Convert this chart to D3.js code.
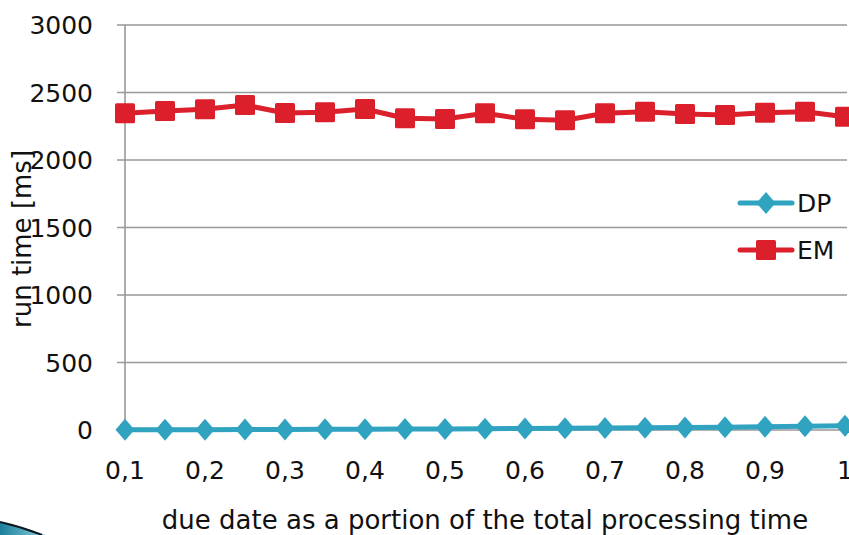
<!DOCTYPE html>
<html>
<head>
<meta charset="utf-8">
<script src="https://cdn.jsdelivr.net/npm/d3@7"></script>
<style>
  html, body { margin: 0; padding: 0; background: #fff; }
  svg { display: block; font-family: "DejaVu Sans", Verdana, sans-serif; }
</style>
</head>
<body>
<svg id="chart" width="849" height="535"></svg>
<script>
// due date as a portion of total processing time
const dueDates = [0.1, 0.15, 0.2, 0.25, 0.3, 0.35, 0.4, 0.45, 0.5, 0.55, 0.6, 0.65, 0.7, 0.75, 0.8, 0.85, 0.9, 0.95, 1.0];
// run times in ms
const dpValues = [1, 2, 2, 3, 4, 5, 6, 7, 8, 10, 11, 13, 15, 17, 19, 21, 24, 27, 31];
const emValues = [2346, 2363, 2376, 2407, 2348, 2353, 2378, 2309, 2304, 2346, 2301, 2294, 2346, 2358, 2341, 2333, 2350, 2358, 2321];
const yTicks = [0, 500, 1000, 1500, 2000, 2500, 3000];
const xTicks = [0.1, 0.2, 0.3, 0.4, 0.5, 0.6, 0.7, 0.8, 0.9, 1.0];
const seriesNames = ["DP", "EM"];
const seriesColors = ["#2fa3c0", "#db202b"];

const svg = d3.select("#chart");

const x = d3.scaleLinear().domain([0.1, 1.0]).range([125, 845]);
const y = d3.scaleLinear().domain([0, 3000]).range([430, 25]);

// horizontal gridlines
svg.append("g")
  .selectAll("line")
  .data(yTicks.filter(d => d > 0))
  .join("line")
  .attr("x1", x(0.1) - 8).attr("x2", 847)
  .attr("y1", d => y(d)).attr("y2", d => y(d))
  .attr("stroke", "#999").attr("stroke-width", 1.6);

// y axis line
svg.append("line")
  .attr("x1", x(0.1)).attr("x2", x(0.1))
  .attr("y1", y(3000)).attr("y2", y(0))
  .attr("stroke", "#999").attr("stroke-width", 1.6);

// x axis line with minor ticks at every data point
svg.append("line")
  .attr("x1", x(0.1)).attr("x2", 849)
  .attr("y1", y(0)).attr("y2", y(0))
  .attr("stroke", "#999").attr("stroke-width", 1.6);
svg.append("g")
  .selectAll("line")
  .data(dueDates)
  .join("line")
  .attr("x1", d => x(d)).attr("x2", d => x(d))
  .attr("y1", y(0)).attr("y2", y(0) + 6)
  .attr("stroke", "#999").attr("stroke-width", 1.6);

// y tick labels
svg.append("g")
  .selectAll("text")
  .data(yTicks)
  .join("text")
  .attr("x", 93)
  .attr("y", d => y(d) + 9)
  .attr("text-anchor", "end")
  .attr("font-size", 25)
  .attr("fill", "#111")
  .text(d => d);

// x tick labels (decimal comma)
svg.append("g")
  .selectAll("text")
  .data(xTicks)
  .join("text")
  .attr("x", d => x(d))
  .attr("y", 479)
  .attr("text-anchor", "middle")
  .attr("font-size", 25)
  .attr("fill", "#111")
  .text(d => d === 1 ? "1" : String(d).replace(".", ","));

// axis titles
svg.append("text")
  .attr("x", 485).attr("y", 529)
  .attr("text-anchor", "middle")
  .attr("font-size", 26)
  .attr("fill", "#111")
  .text("due date as a portion of the total processing time");

svg.append("text")
  .attr("transform", "translate(31,239) rotate(-90)")
  .attr("text-anchor", "middle")
  .attr("font-size", 26)
  .attr("fill", "#111")
  .text("run time [ms]");

const line = d3.line().x((d, i) => x(dueDates[i])).y(d => y(d));

// EM series: line with square markers
svg.append("path")
  .datum(emValues)
  .attr("d", line)
  .attr("fill", "none")
  .attr("stroke", seriesColors[1])
  .attr("stroke-width", 5)
  .attr("stroke-linejoin", "round");
svg.append("g")
  .selectAll("rect")
  .data(emValues)
  .join("rect")
  .attr("x", (d, i) => x(dueDates[i]) - 10)
  .attr("y", d => y(d) - 10)
  .attr("width", 20).attr("height", 20)
  .attr("rx", 1.5)
  .attr("fill", seriesColors[1]);

// DP series: line with diamond markers
const diamond = "M0,-11 L9.5,0 L0,11 L-9.5,0 Z";
svg.append("path")
  .datum(dpValues)
  .attr("d", line)
  .attr("fill", "none")
  .attr("stroke", seriesColors[0])
  .attr("stroke-width", 5)
  .attr("stroke-linejoin", "round");
svg.append("g")
  .selectAll("path")
  .data(dpValues)
  .join("path")
  .attr("transform", (d, i) => `translate(${x(dueDates[i])},${y(d)})`)
  .attr("d", diamond)
  .attr("fill", seriesColors[0]);

// legend
const legend = svg.append("g");
const legendY = [203, 250];
seriesNames.forEach((name, i) => {
  const g = legend.append("g").attr("transform", `translate(0,${legendY[i]})`);
  g.append("line")
    .attr("x1", 740).attr("x2", 792)
    .attr("stroke", seriesColors[i]).attr("stroke-width", 5)
    .attr("stroke-linecap", "round");
  if (i === 0) {
    g.append("path").attr("transform", "translate(766,0)").attr("d", diamond).attr("fill", seriesColors[i]);
  } else {
    g.append("rect").attr("x", 756).attr("y", -10).attr("width", 20).attr("height", 20)
      .attr("rx", 1.5).attr("fill", seriesColors[i]);
  }
  g.append("text")
    .attr("x", 797).attr("y", 9)
    .attr("font-size", 25)
    .attr("fill", "#111")
    .text(name);
});

// slide corner swoosh
const grad = svg.append("defs").append("linearGradient")
  .attr("id", "swoosh").attr("x1", 0).attr("x2", 1).attr("y1", 0).attr("y2", 0);
grad.append("stop").attr("offset", "0%").attr("stop-color", "#1c7f9c");
grad.append("stop").attr("offset", "100%").attr("stop-color", "#8fd0e0");
svg.append("path")
  .attr("d", "M0,522 Q22,527 46,535 L0,535 Z")
  .attr("fill", "url(#swoosh)");
svg.append("path")
  .attr("d", "M0,522 Q22,527 42,535")
  .attr("fill", "none")
  .attr("stroke", "#0b1a1f")
  .attr("stroke-width", 2);
</script>
</body>
</html>
